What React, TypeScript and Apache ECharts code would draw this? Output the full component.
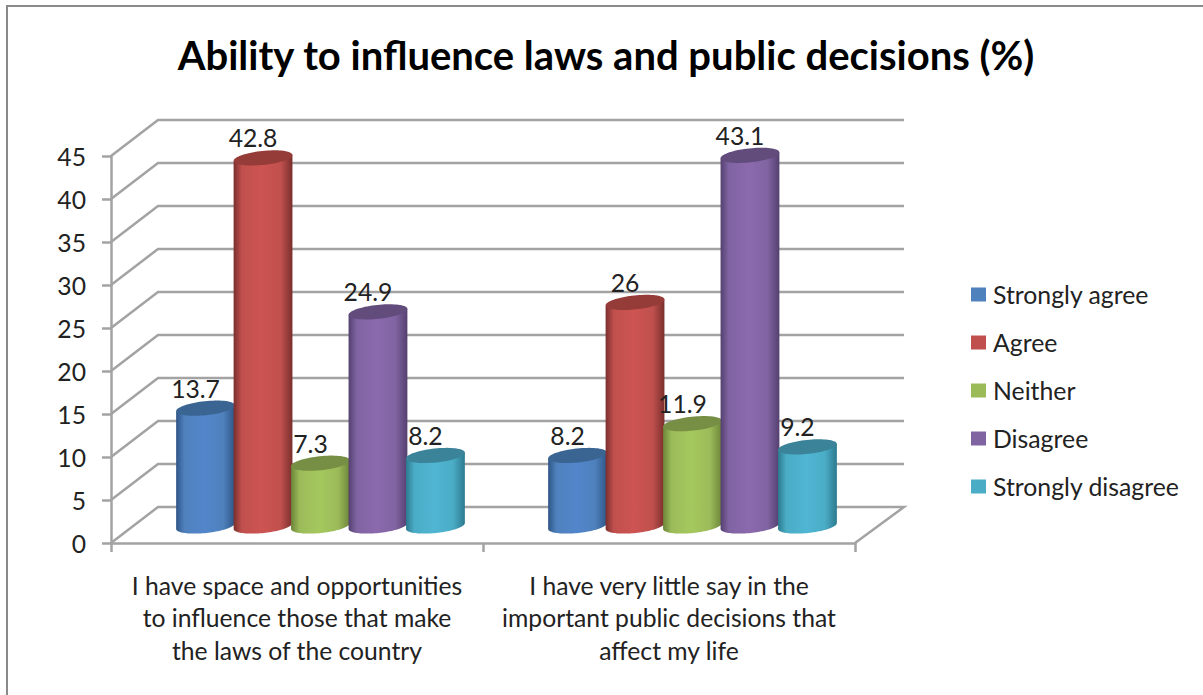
import React, { useEffect, useRef } from "react";
import * as echarts from "echarts";

const chartTitle = "Ability to influence laws and public decisions (%)";
const statements = [
  "I have space and opportunities\nto influence those that make\nthe laws of the country",
  "I have very little say in the\nimportant public decisions that\naffect my life",
];
const responses = ["Strongly agree", "Agree", "Neither", "Disagree", "Strongly disagree"];
const stronglyAgree = [13.7, 8.2];
const agree = [42.8, 26];
const neither = [7.3, 11.9];
const disagree = [24.9, 43.1];
const stronglyDisagree = [8.2, 9.2];
const responseValues = [stronglyAgree, agree, neither, disagree, stronglyDisagree];
const valueTicks = [0, 5, 10, 15, 20, 25, 30, 35, 40, 45];

// Shades for each response: face colour, side shadow, bright centre, cap.
const faceColors = ["#4f81bd", "#c0504d", "#9bbb59", "#8064a2", "#4bacc6"];
const shadeColors = ["#2f5587", "#7a2f2d", "#6c8439", "#54406f", "#2c7a8f"];
const glowColors = ["#5286cb", "#cd5452", "#a5c85e", "#8b69ad", "#4fb6d3"];
const capColors = ["#3a6592", "#953c39", "#778f45", "#624c7c", "#3a8398"];

const FONT = "Lato, 'Noto Sans', sans-serif";
const TEXT = "#222222";
const GRID = "#a3a3a3";
const GRID_WIDTH = 2.5;

// Projection of the depth axis onto the page.
const DEPTH_X = 47;
const DEPTH_Y = -36;
const BACK_EXTRA = 2;
const TILT = (-6 * Math.PI) / 180;
const CAP_RY = 7;

function ellipsePoint(cx: number, cy: number, rx: number, t: number) {
  const px = rx * Math.cos(t);
  const py = CAP_RY * Math.sin(t);
  return [cx + px * Math.cos(TILT) - py * Math.sin(TILT), cy + px * Math.sin(TILT) + py * Math.cos(TILT)];
}

function wallRenderer(params: any, api: any) {
  const v = api.value(0);
  const sys = params.coordSys;
  const y = api.coord([0, v])[1];
  const left = sys.x;
  const right = sys.x + sys.width;
  const lineStyle = { stroke: GRID, lineWidth: GRID_WIDTH, fill: "none" };
  const points = [
    [left, y],
    [left + DEPTH_X, y + DEPTH_Y],
    [right + DEPTH_X + BACK_EXTRA, y + DEPTH_Y],
  ];
  if (v === 0) points.push([right, y]);
  return { type: "polyline", shape: { points }, style: lineStyle, silent: true };
}

function cylinderRenderer(seriesIndex: number) {
  return (_params: any, api: any) => {
    const cat = api.value(0);
    const val = api.value(1);
    const band = api.size([1, 0])[0];
    const step = band * 0.1545;
    const rx = band * 0.0795;
    const foot = api.coord([cat, 0]);
    const head = api.coord([cat, val]);
    const cx = foot[0] + DEPTH_X / 2 + (seriesIndex - 2) * step;
    const baseY = foot[1] + DEPTH_Y / 2 + 1;
    const topY = head[1] + DEPTH_Y / 2 + 1;

    const body: number[][] = [ellipsePoint(cx, topY, rx, 0)];
    for (let k = 0; k <= 48; k++) body.push(ellipsePoint(cx, baseY, rx, (k / 48) * Math.PI));
    body.push(ellipsePoint(cx, topY, rx, Math.PI));

    const cap: number[][] = [];
    for (let k = 0; k < 72; k++) cap.push(ellipsePoint(cx, topY, rx, (k / 72) * 2 * Math.PI));

    const shade = shadeColors[seriesIndex];
    const glow = glowColors[seriesIndex];
    const face = faceColors[seriesIndex];
    const fill = new echarts.graphic.LinearGradient(0, 0, 1, 0, [
      { offset: 0, color: shade },
      { offset: 0.14, color: face },
      { offset: 0.48, color: glow },
      { offset: 0.8, color: face },
      { offset: 1, color: shade },
    ]);

    return {
      type: "group",
      children: [
        { type: "polygon", shape: { points: body }, style: { fill } },
        { type: "polygon", shape: { points: cap }, style: { fill: capColors[seriesIndex] } },
        {
          type: "text",
          z2: 20,
          x: cx - 10,
          y: topY - 20,
          style: {
            text: String(val),
            fill: TEXT,
            font: `24.7px ${FONT}`,
            align: "center",
            verticalAlign: "middle",
          },
        },
      ],
    };
  };
}

export default function App() {
  const ref = useRef<HTMLDivElement>(null);

  useEffect(() => {
    const chart = echarts.init(ref.current!, undefined, { renderer: "svg" });
    chart.setOption({
      animation: false,
      backgroundColor: "#ffffff",
      title: {
        text: chartTitle,
        left: 601,
        top: 30,
        textAlign: "center",
        textStyle: { fontFamily: FONT, fontWeight: "bold", fontSize: 40, color: "#000000" },
      },
      legend: {
        data: responses,
        orient: "vertical",
        left: 966,
        top: 277,
        icon: "rect",
        itemWidth: 15,
        itemHeight: 14,
        itemGap: 23,
        selectedMode: false,
        textStyle: { fontFamily: FONT, fontSize: 24.8, color: TEXT, padding: [0, 0, 0, 2] },
      },
      grid: { left: 111, top: 156, width: 744, height: 387, containLabel: false },
      xAxis: {
        type: "category",
        data: statements,
        axisLine: { lineStyle: { color: GRID, width: GRID_WIDTH } },
        axisTick: { show: true, length: 9, alignWithLabel: false, lineStyle: { color: GRID, width: GRID_WIDTH } },
        axisLabel: {
          interval: 0,
          margin: 26,
          fontFamily: FONT,
          fontSize: 24.7,
          lineHeight: 32.5,
          color: TEXT,
          align: "center",
        },
        splitLine: { show: false },
      },
      yAxis: {
        type: "value",
        min: 0,
        max: 45,
        interval: 5,
        axisLine: { show: true, lineStyle: { color: GRID, width: GRID_WIDTH } },
        axisTick: { show: true, length: 9, lineStyle: { color: GRID, width: GRID_WIDTH } },
        axisLabel: { margin: 25, padding: [4, 0, 0, 0], fontFamily: FONT, fontSize: 24.7, color: TEXT },
        splitLine: { show: false },
      },
      graphic: [
        {
          type: "polyline",
          shape: { points: [[7, 695], [7, 6], [1203, 6]] },
          style: { stroke: "#8a8a8a", lineWidth: 2, fill: "none" },
          silent: true,
        },
      ],
      series: [
        {
          name: "wall",
          type: "custom",
          data: valueTicks.map((v) => [v]),
          encode: { y: 0 },
          renderItem: wallRenderer,
          silent: true,
          z: 1,
        },
        ...responses.map((name, s) => ({
          name,
          type: "custom",
          data: responseValues[s].map((v, c) => [c, v]),
          encode: { x: 0, y: 1 },
          itemStyle: { color: faceColors[s] },
          renderItem: cylinderRenderer(s),
          z: 2,
        })),
      ],
    });
    return () => chart.dispose();
  }, []);

  return <div ref={ref} style={{ position: "absolute", left: 0, top: 0, width: 1203, height: 695 }} />;
}
